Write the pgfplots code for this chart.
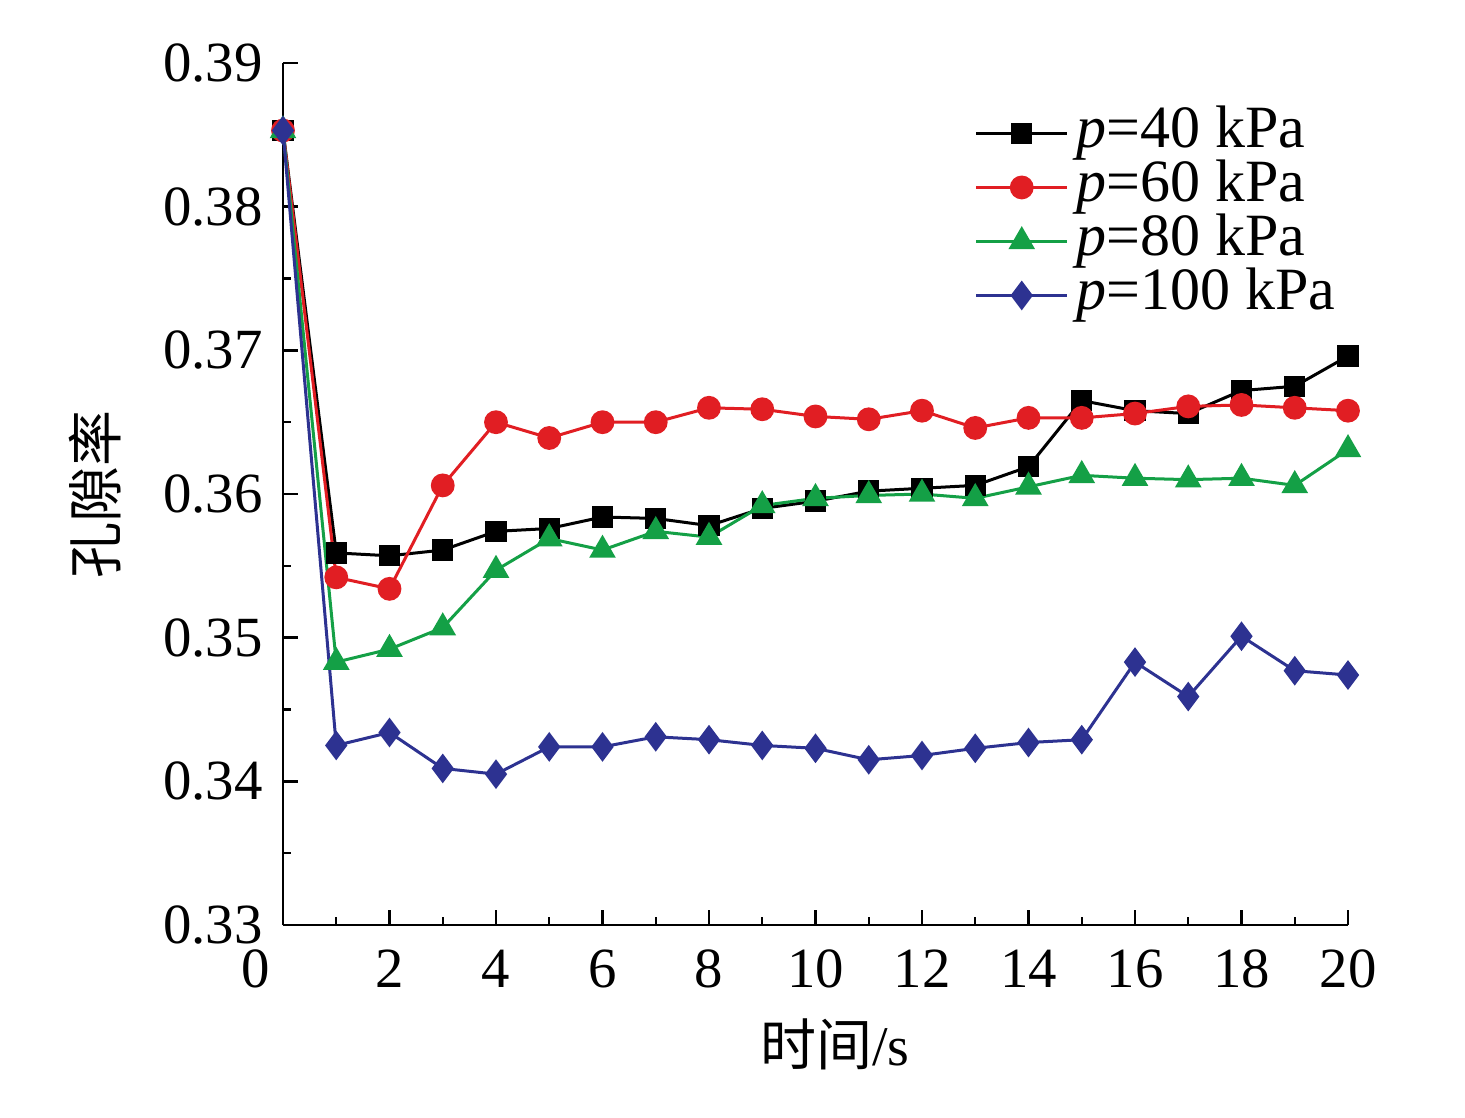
\documentclass[border=0pt]{standalone}
\usepackage{pgfplots}
\pgfplotsset{compat=1.18}
\usepackage{fontspec}
\setmainfont{Liberation Serif}
\newfontfamily\cjk{Noto Sans CJK SC}
\definecolor{cR}{RGB}{225,30,35}
\definecolor{cG}{RGB}{20,160,70}
\definecolor{cB}{RGB}{45,50,145}
\begin{document}
\fontsize{14}{17}\selectfont
\begin{tikzpicture}
\path[use as bounding box] (-70.75pt,-48pt) rectangle (295.5pt,231.25pt);
\begin{axis}[
  at={(0,0)}, anchor=south west,
  scale only axis, width=266.25pt, height=215.5pt,
  xmin=0, xmax=20, ymin=0.33, ymax=0.39,
  axis x line*=bottom, axis y line*=left,
  axis line style={-, line width=0.6pt},
  tick align=inside,
  major tick length=3.75pt, minor tick length=2pt,
  every tick/.style={black, line width=0.6pt},
  xtick={0,2,...,20},
  xticklabels={\makebox[0pt][r]{0\hspace{3.2pt}},2,4,6,8,10,12,14,16,18,20},
  ytick={0.33,0.34,...,0.39},
  minor x tick num=1, minor y tick num=1,
  yticklabel style={/pgf/number format/.cd, fixed, fixed zerofill, precision=2, /tikz/.cd, inner sep=0pt, xshift=-4.9pt},
  xticklabel style={inner sep=0pt, yshift=-6pt},
  /pgf/number format/assume math mode=true,
  tick label style={font=\fontsize{14.2}{17}\selectfont},
  xlabel={{\cjk 时间}/s},
  ylabel={\cjk 孔隙率},
  label style={font=\fontsize{14}{17}\selectfont},
  xlabel style={at={(axis description cs:0.518,-0.139)}, anchor=center},
  ylabel style={at={(axis description cs:-0.1765,0.5)}, anchor=center, rotate=0},
  legend style={at={(axis description cs:0.645,0.954)}, anchor=north west, draw=none, fill=none,
    font=\fontsize{15}{17}\selectfont, row sep=0.5pt, inner sep=1pt,
    nodes={inner ysep=0pt, text height=10pt, text depth=3pt}},
  legend cell align=left,
  legend image code/.code={\draw[mark repeat=2,mark phase=2] plot coordinates {(0cm,0cm) (0.4cm,0cm) (0.8cm,0cm)};},
  every axis plot/.append style={line width=0.75pt},
]
\addplot[black, mark=square*, mark size=2.3pt] coordinates {
(0,0.3853) (1,0.3559) (2,0.3557) (3,0.3561) (4,0.3574) (5,0.3576) (6,0.3584) (7,0.3583) (8,0.3578) (9,0.3590) (10,0.3595)
(11,0.3602) (12,0.3604) (13,0.3606) (14,0.3619) (15,0.3665) (16,0.3658) (17,0.3656) (18,0.3672) (19,0.3675) (20,0.3696)};
\addlegendentry{\textit{p}=40 kPa}
\addplot[cR, mark=*, mark size=2.6pt] coordinates {
(0,0.3853) (1,0.3542) (2,0.3534) (3,0.3606) (4,0.3650) (5,0.3639) (6,0.3650) (7,0.3650) (8,0.3660) (9,0.3659) (10,0.3654)
(11,0.3652) (12,0.3658) (13,0.3646) (14,0.3653) (15,0.3653) (16,0.3656) (17,0.3661) (18,0.3662) (19,0.3660) (20,0.3658)};
\addlegendentry{\textit{p}=60 kPa}
\addplot[cG, mark=triangle*, mark size=3.1pt] coordinates {
(0,0.3853) (1,0.3483) (2,0.3492) (3,0.3507) (4,0.3547) (5,0.3569) (6,0.3561) (7,0.3574) (8,0.3570) (9,0.3592) (10,0.3597)
(11,0.3599) (12,0.3600) (13,0.3597) (14,0.3605) (15,0.3613) (16,0.3611) (17,0.3610) (18,0.3611) (19,0.3606) (20,0.3631)};
\addlegendentry{\textit{p}=80 kPa}
\addplot[cB, mark=diamond*, mark size=3.1pt] coordinates {
(0,0.3853) (1,0.3425) (2,0.3434) (3,0.3409) (4,0.3405) (5,0.3424) (6,0.3424) (7,0.3431) (8,0.3429) (9,0.3425) (10,0.3423)
(11,0.3415) (12,0.3418) (13,0.3423) (14,0.3427) (15,0.3429) (16,0.3483) (17,0.3459) (18,0.3501) (19,0.3477) (20,0.3474)};
\addlegendentry{\textit{p}=100 kPa}
\end{axis}
\end{tikzpicture}
\end{document}
